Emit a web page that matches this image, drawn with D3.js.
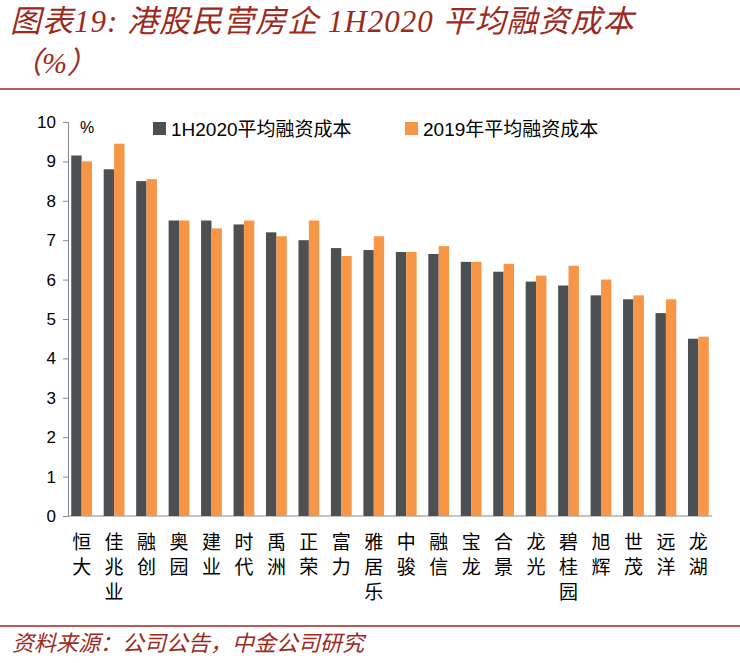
<!DOCTYPE html>
<html><head><meta charset="utf-8">
<script src="https://cdn.jsdelivr.net/npm/d3@7"></script>
<style>body{margin:0;background:#fff}</style>
</head><body>
<svg id="chart" width="740" height="663"></svg>
<script>
var categories = ["恒大","佳兆业","融创","奥园","建业","时代","禹洲","正荣","富力","雅居乐","中骏","融信","宝龙","合景","龙光","碧桂园","旭辉","世茂","远洋","龙湖"];
var cost1H2020 = [9.15,8.8,8.5,7.5,7.5,7.4,7.2,7.0,6.8,6.75,6.7,6.65,6.45,6.2,5.95,5.85,5.6,5.5,5.15,4.5];
var cost2019 = [9.0,9.45,8.55,7.5,7.3,7.5,7.1,7.5,6.6,7.1,6.7,6.85,6.45,6.4,6.1,6.35,6.0,5.6,5.5,4.55];
var yTicks = [0,1,2,3,4,5,6,7,8,9,10];
var seriesNames = ["1H2020平均融资成本","2019年平均融资成本"];
var colors = ["#4d5053","#f79646"];

var svg = d3.select("#chart");
var titleColor = "#9c2a1c";
var serif = "'Liberation Serif','Noto Sans CJK SC',serif";

// title
svg.append("text").attr("x",10).attr("y",32).attr("fill",titleColor)
  .style("font-family",serif).style("font-style","italic").style("font-size","31px").style("letter-spacing","1px")
  .text("图表19: 港股民营房企 1H2020 平均融资成本");
svg.append("text").attr("x",12).attr("y",73).attr("fill",titleColor)
  .style("font-family",serif).style("font-style","italic").style("font-size","30px")
  .text("（%）");
svg.append("line").attr("x1",0).attr("x2",740).attr("y1",89).attr("y2",89).attr("stroke",titleColor).attr("stroke-width",1.5);
svg.append("line").attr("x1",0).attr("x2",740).attr("y1",626).attr("y2",626).attr("stroke",titleColor).attr("stroke-width",1.5);
svg.append("text").attr("x",12).attr("y",651).attr("fill",titleColor)
  .style("font-family",serif).style("font-style","italic").style("font-size","22px")
  .text("资料来源：公司公告，中金公司研究");

var x = d3.scaleBand().domain(categories).range([68,712]).paddingInner(0.36).paddingOuter(0.1);
var y = d3.scaleLinear().domain([0,10]).range([516,122]);
var x1 = d3.scaleBand().domain([0,1]).range([0,x.bandwidth()]);

var yAxis = svg.append("g").attr("transform","translate(68,0)")
  .call(d3.axisLeft(y).tickValues(yTicks).tickSize(5).tickFormat(d3.format("d")));
yAxis.selectAll("text").style("font-family","'Liberation Sans',Arial,sans-serif").style("font-size","17px").attr("fill","#000").attr("dx","-4");
yAxis.selectAll("line,path").attr("stroke","#888");
svg.append("line").attr("x1",68).attr("x2",712).attr("y1",y(0)).attr("y2",y(0)).attr("stroke","#888");
svg.append("text").attr("x",80).attr("y",133).style("font-family","'Liberation Sans',sans-serif").style("font-size","16px").text("%");

[cost1H2020,cost2019].forEach(function(vals,s){
  svg.append("g").selectAll("rect").data(vals).join("rect")
    .attr("x",function(d,i){return x(categories[i])+x1(s);})
    .attr("width",x1.bandwidth())
    .attr("y",function(d){return y(d);})
    .attr("height",function(d){return y(0)-y(d);})
    .attr("fill",colors[s]);
});

// category labels, vertical characters
var lab = svg.append("g");
categories.forEach(function(c){
  var cx = x(c)+x.bandwidth()/2;
  c.split("").forEach(function(ch,j){
    lab.append("text").attr("x",cx).attr("y",549+j*25).attr("text-anchor","middle")
      .style("font-family","'Noto Sans CJK SC',sans-serif").style("font-size","19px").text(ch);
  });
});

// legend
var lg = svg.append("g");
var lx = [153,405];
seriesNames.forEach(function(n,i){
  lg.append("rect").attr("x",lx[i]).attr("y",122).attr("width",13).attr("height",13).attr("fill",colors[i]);
  lg.append("text").attr("x",lx[i]+18).attr("y",136)
    .style("font-family","'Liberation Sans','Noto Sans CJK SC',sans-serif").style("font-size","19px").text(n);
});
</script>
</body></html>
